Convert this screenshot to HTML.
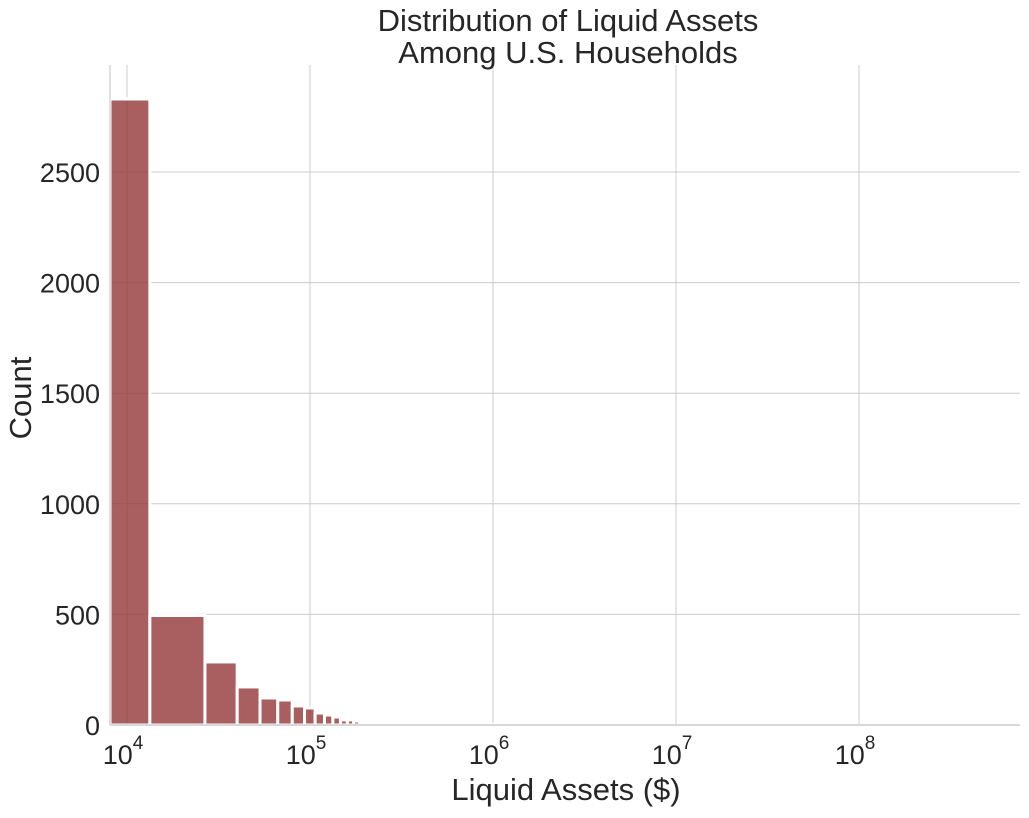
<!DOCTYPE html>
<html><head><meta charset="utf-8"><style>
html,body{margin:0;padding:0;background:#fff;}
svg text{font-family:"Liberation Sans",Arial,sans-serif;fill:#262626;}
</style></head><body>
<svg id="chart" width="1029" height="813">
<g id="grid"></g>
<g id="bars"></g>
<g id="axes"></g>
<text x="568" y="31" font-size="31" text-anchor="middle">Distribution of Liquid Assets</text>
<text x="568" y="63" font-size="31" text-anchor="middle">Among U.S. Households</text>
<text x="566" y="800" font-size="31" text-anchor="middle">Liquid Assets ($)</text>
<text transform="translate(31,398) rotate(-90)" font-size="31" text-anchor="middle">Count</text>
</svg>
<script>
const binWidth = 13333;
const counts = [2830,495,285,172,122,113,86,77,54,45,36,23,23,18,8,5,3,2,1,1];
const sparseBins = [60,75,90,110,140,180,230,300];
const sparseCounts = [1,1,2,1,1,1,1,1];
const yTicks = [0,500,1000,1500,2000,2500];
const xExps = [4,5,6,7,8];

const L=110,R=1020,T=65,B=725;
const x = v => 127 + 183*(Math.log10(v)-4);
const y = c => B - c*0.2212;
const NS="http://www.w3.org/2000/svg";
const grid=document.getElementById('grid'), bars=document.getElementById('bars'), axes=document.getElementById('axes');
function mk(tag,attrs,parent){const e=document.createElementNS(NS,tag);for(const k in attrs)e.setAttribute(k,attrs[k]);parent.appendChild(e);return e;}

yTicks.forEach(t=>{
  const ln=mk('line',{x1:L,x2:R,y1:y(t),y2:y(t),stroke:'#cccccc','stroke-width':1},grid);
  
  
  const tx=mk('text',{x:100,y:y(t)+10,'font-size':27,'text-anchor':'end'},axes);
  tx.textContent=t;
  
  
});
xExps.forEach(e=>{
  const xv=x(Math.pow(10,e));
  const ln=mk('line',{x1:xv,x2:xv,y1:T,y2:B,stroke:'#cccccc','stroke-width':1},grid);
  
  
  const tx=mk('text',{x:xv-4,y:764,'font-size':27,'text-anchor':'middle'},axes);
  tx.textContent='10';
  const sp=mk('tspan',{dy:-15,'font-size':19},tx);
  sp.textContent=e;
  
  
});
const sl=mk('line',{x1:L,x2:L,y1:T,y2:B,stroke:'#cccccc','stroke-width':1.2},axes);


const sb=mk('line',{x1:L,x2:R,y1:B,y2:B,stroke:'#cccccc','stroke-width':1.5},axes);



function drawBar(k,c){
  let x0 = k===0 ? L : x(k*binWidth);
  let x1 = x((k+1)*binWidth);
  x0=Math.max(x0,L);
  const r=mk('rect',{x:x0,y:y(c),width:Math.max(x1-x0,0.5),height:B-y(c),fill:'rgba(150,60,60,0.82)',stroke:'#ffffff','stroke-width':3},bars);
  
  
}
counts.forEach((c,k)=>drawBar(k,c));
sparseBins.forEach((k,i)=>drawBar(k,sparseCounts[i]));
</script>
</body></html>
